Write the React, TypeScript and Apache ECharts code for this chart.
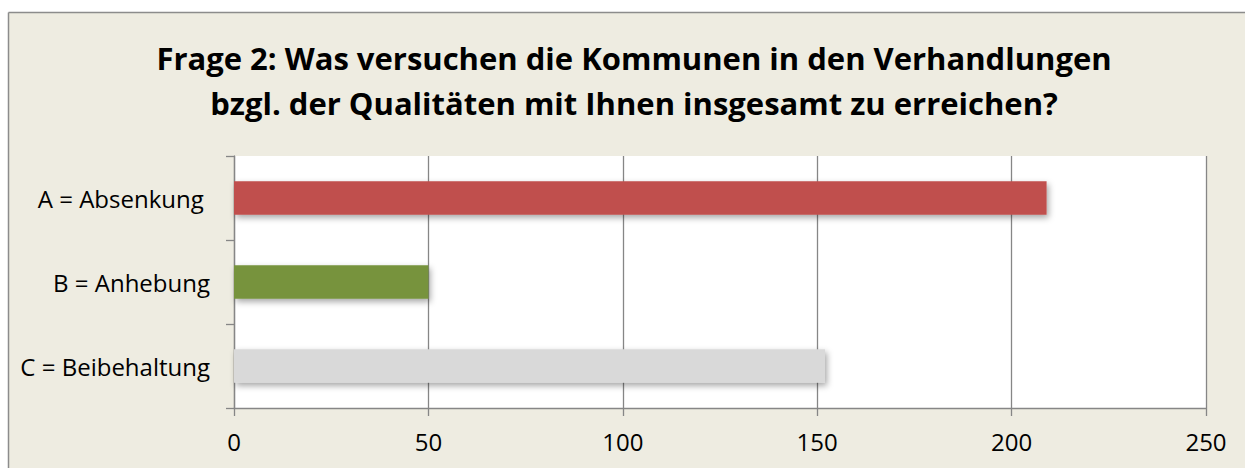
import React, { useEffect, useRef } from "react";
import * as echarts from "echarts";

const titleLines = [
  "Frage 2: Was versuchen die Kommunen in den Verhandlungen",
  "bzgl. der Qualitäten mit Ihnen insgesamt zu erreichen?",
];
const categories = ["A = Absenkung ", "B = Anhebung", "C = Beibehaltung"];
const values = [209, 50, 152];
const barColors = ["#C0504D", "#77933C", "#D9D9D9"];
const xTicks = { min: 0, max: 250, interval: 50 };

export default function App() {
  const ref = useRef<HTMLDivElement>(null);
  useEffect(() => {
    if (!ref.current) return;
    const chart = echarts.init(ref.current, undefined, { renderer: "svg" });
    const font = "'Open Sans', 'DejaVu Sans', sans-serif";
    const border = { stroke: "#8C8C8C", lineWidth: 1.5 };
    chart.setOption({
      animation: false,
      backgroundColor: "#ffffff",
      graphic: [
        {
          type: "rect",
          shape: { x: 8.5, y: 12.5, width: 1300, height: 500 },
          style: { fill: "#EEECE1" },
          z: -10,
        },
        {
          type: "line",
          shape: { x1: 8.5, y1: 12.5, x2: 1260, y2: 12.5 },
          style: border,
          z: -9,
        },
        {
          type: "line",
          shape: { x1: 8.5, y1: 12.5, x2: 8.5, y2: 480 },
          style: border,
          z: -9,
        },
      ],
      title: {
        text: titleLines.join("\n"),
        left: 629,
        textAlign: "center",
        top: 30,
        textStyle: {
          fontFamily: font,
          fontWeight: "bold",
          fontSize: 31,
          lineHeight: 45,
          color: "#000",
        },
      },
      grid: {
        left: 234,
        right: 39,
        top: 156,
        bottom: 60,
        show: true,
        backgroundColor: "#ffffff",
        borderWidth: 0,
      },
      xAxis: {
        type: "value",
        min: xTicks.min,
        max: xTicks.max,
        interval: xTicks.interval,
        axisLine: { show: true, lineStyle: { color: "#868686", width: 1.3 } },
        axisTick: { show: true, length: 8, lineStyle: { color: "#868686", width: 1.3 } },
        splitLine: { show: true, lineStyle: { color: "#868686", width: 1.3 } },
        axisLabel: { color: "#000", fontFamily: font, fontSize: 24, margin: 21 },
      },
      yAxis: {
        type: "category",
        inverse: true,
        data: categories,
        axisLine: { show: true, lineStyle: { color: "#868686", width: 1.3 } },
        axisTick: { show: true, length: 8, lineStyle: { color: "#868686", width: 1.3 } },
        axisLabel: { color: "#000", fontFamily: font, fontSize: 24, margin: 24 },
      },
      series: [
        {
          type: "bar",
          barWidth: "40%",
          data: values.map((v, i) => ({
            value: v,
            itemStyle: {
              color: barColors[i],
              shadowColor: "rgba(0,0,0,0.35)",
              shadowBlur: 6,
              shadowOffsetX: 2,
              shadowOffsetY: 3,
            },
          })),
        },
      ],
    });
    return () => chart.dispose();
  }, []);
  return (
    <div
      ref={ref}
      style={{ position: "fixed", left: 0, top: 0, width: 1245, height: 468 }}
    />
  );
}
